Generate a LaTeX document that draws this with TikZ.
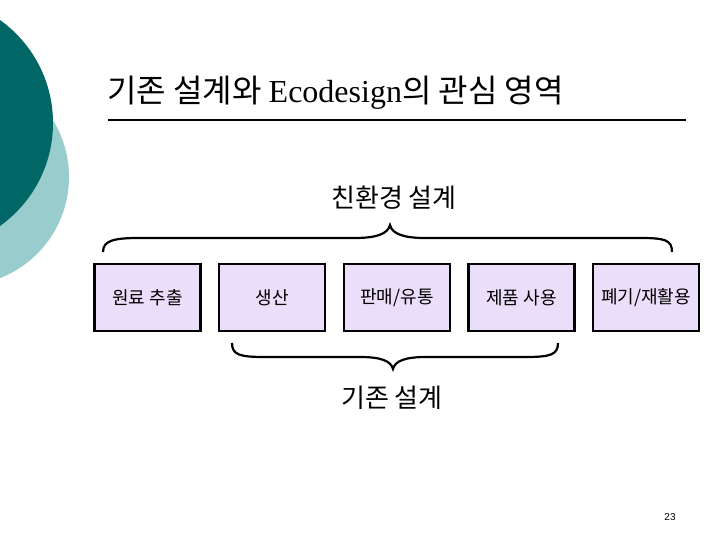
\documentclass[tikz,border=0pt]{standalone}
\usepackage{fontspec}
\setmainfont{Noto Sans CJK KR}
\newfontfamily\lserif{Liberation Serif}
\newfontfamily\lsans{Liberation Sans}
\definecolor{darkteal}{RGB}{0,102,102}
\definecolor{lightteal}{RGB}{153,204,204}
\definecolor{boxfill}{RGB}{234,222,250}
\begin{document}
\begin{tikzpicture}[x=1pt,y=-1pt,
  stagebox/.style={draw=black,line width=2.5pt,fill=boxfill,minimum width=106pt,minimum height=67pt,inner sep=0pt,font=\fontsize{18}{20}\selectfont},
  bracepath/.style={draw=black,line width=2.2pt},
  biglabel/.style={font=\fontsize{26}{28}\selectfont,inner sep=0pt}
  ]
\useasboundingbox[fill=white] (0,0) rectangle (720,540);
\fill[lightteal] (-39.5,177) circle (108.5);
\fill[darkteal] (-73.5,123) circle (126.5);
\node[anchor=base west,inner sep=0pt,font=\fontsize{32}{34}\selectfont] (title) at (107,103) {기존 설계와 {\lserif Ecodesign}의 관심 영역};
\draw[line width=2.2pt] (108,120) -- (686,120);
\node[biglabel] (eco) at (394,198) {친환경 설계};
\node[stagebox] (b1) at (147.5,297.5) {\raisebox{-2pt}{원료 추출}};
\node[stagebox] (b2) at (272,297.5) {\raisebox{-2pt}{생산}};
\node[stagebox] (b3) at (397,297.5) {\raisebox{-2pt}{판매/유통}};
\node[stagebox] (b4) at (521.5,297.5) {\raisebox{-2pt}{제품 사용}};
\node[stagebox] (b5) at (646,297.5) {\raisebox{-2pt}{폐기/재활용}};
\draw[bracepath] (103,252) .. controls (103,240) and (115,238) .. (140,238) -- (355,238) .. controls (376,238) and (388,234) .. (390,225) .. controls (392,234) and (404,238) .. (425,238) -- (640,238) .. controls (665,238) and (672,240) .. (672,252);
\draw[bracepath] (232,343) .. controls (232,355) and (240,357) .. (265,357) -- (360,357) .. controls (381,357) and (391,361) .. (393,369) .. controls (395,361) and (405,357) .. (426,357) -- (525,357) .. controls (550,357) and (558,355) .. (558,343);
\node[biglabel] (conv) at (392,398) {기존 설계};
\node[font=\lsans\fontsize{10}{12}\selectfont,inner sep=0pt] (page) at (670,517) {23};
\end{tikzpicture}
\end{document}
